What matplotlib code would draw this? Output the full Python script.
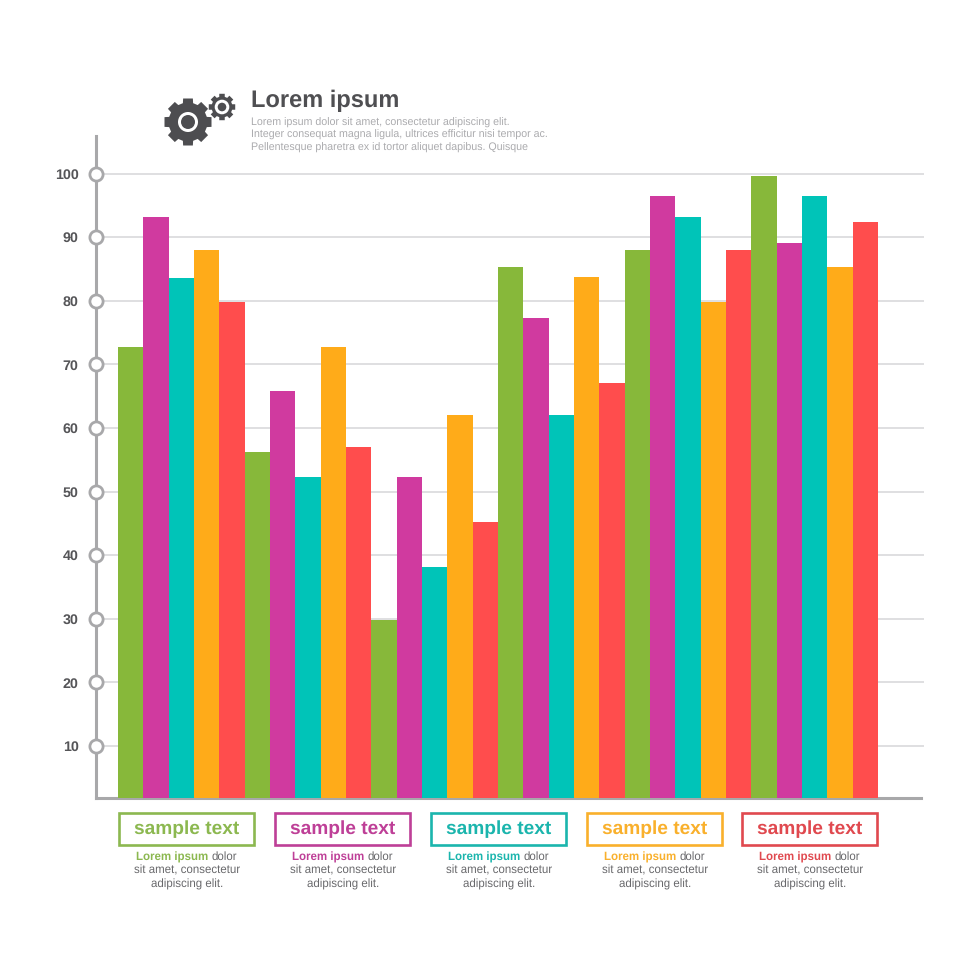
import numpy as np
import matplotlib
matplotlib.use('Agg')
import matplotlib.pyplot as plt
from matplotlib.patches import Rectangle, Polygon, Circle

plt.rcParams['font.family'] = ['Liberation Sans', 'DejaVu Sans']
plt.rcParams['text.hinting'] = 'no_hinting'

# values, one list per group of five bars
group_1 = [72.7, 93.2, 83.6, 88.0, 79.8]
group_2 = [56.2, 65.8, 52.3, 72.7, 57.0]
group_3 = [29.8, 52.3, 38.1, 62.0, 45.2]
group_4 = [85.3, 77.3, 62.0, 83.7, 67.0]
group_5 = [88.0, 96.5, 93.2, 79.8, 88.0]
group_6 = [99.6, 89.0, 96.5, 85.3, 92.4]
groups = [group_1, group_2, group_3, group_4, group_5, group_6]

bar_colors = ['#87B83A', '#D03A9F', '#00C4B8', '#FFAB19', '#FF4D4D']
text_colors = ['#8CB850', '#BE3F97', '#1BB5AD', '#F9B02C', '#E0494F']
y_ticks = [10, 20, 30, 40, 50, 60, 70, 80, 90, 100]
box_label = 'sample text'
title = 'Lorem ipsum'
subtitle = ['Lorem ipsum dolor sit amet, consectetur adipiscing elit.',
            'Integer consequat magna ligula, ultrices efficitur nisi tempor ac.',
            'Pellentesque pharetra ex id tortor aliquet dapibus. Quisque']

values = [v for g in groups for v in g]
colors = bar_colors * len(groups)
x = np.arange(len(values))

fig = plt.figure(figsize=(9.8, 9.8), dpi=100, facecolor='white')

# main chart
ax = fig.add_axes([96 / 980, 1 - 798 / 980, 828 / 980, 662 / 980])
ax.bar(x, values, width=1.0, color=colors, zorder=3)
xmin, xmax = -1.368, 31.316
ax.set_xlim(xmin, xmax)
ax.set_ylim(1.82, 105.9)
ax.set_xticks([])
ax.set_yticks(y_ticks)
ax.set_yticklabels([str(t) for t in y_ticks], fontsize=10.3, fontweight='bold', color='#555558')
ax.tick_params(axis='y', length=0, pad=12.5)
for t in y_ticks:
    ax.axhline(t, color='#D6D6D8', lw=1.1, zorder=1)
for s in ['top', 'right']:
    ax.spines[s].set_visible(False)
for s in ['left', 'bottom']:
    ax.spines[s].set_color('#A8A8AA')
    ax.spines[s].set_linewidth(2.2)
ax.spines['bottom'].set_bounds(xmin, 31.2)
ax.plot([xmin] * len(y_ticks), y_ticks, 'o', ms=9.5, mfc='white', mec='#A8A8AA', mew=2.0,
        clip_on=False, zorder=5)

# overlay in picture pixels for header and boxes
ov = fig.add_axes([0, 0, 1, 1], facecolor='none')
ov.set_xlim(0, 980)
ov.set_ylim(980, 0)
ov.axis('off')


def gear(cx, cy, r_out, r_root, r_hole, r_inner, teeth):
    pts = []
    step = 2 * np.pi / teeth
    for i in range(teeth):
        a = i * step - np.pi / 2
        w = step * 0.26
        pts.append((a - w * 1.3, r_root))
        pts.append((a - w, r_out))
        pts.append((a + w, r_out))
        pts.append((a + w * 1.3, r_root))
    xy = [(cx + r * np.cos(a), cy + r * np.sin(a)) for a, r in pts]
    ov.add_patch(Polygon(xy, closed=True, fc='#4D4D50', ec='none'))
    ov.add_patch(Circle((cx, cy), r_hole, fc='white', ec='none'))
    ov.add_patch(Circle((cx, cy), r_inner, fc='#4D4D50', ec='none'))


gear(188, 122, 24, 19.5, 10, 7, 8)
gear(222, 107, 13.5, 10.5, 7.3, 4.3, 8)

ov.text(251, 100.5, title, fontsize=17, fontweight='bold', color='#4F4F52', ha='left', va='center')
for i, line in enumerate(subtitle):
    ov.text(251, 122.5 + i * 12.6, line, fontsize=7.67, color='#ABABAE', ha='left', va='center')

box_left = [118, 274, 430, 586, 741]
for left, c_box, c_text in zip(box_left, bar_colors, text_colors):
    cen = left + 69
    ov.add_patch(Rectangle((left + 1, 812.5), 135, 32, fc='white', ec=c_text, lw=1.9))
    ov.text(cen, 829, box_label, fontsize=13.8, fontweight='bold', color=c_text, ha='center', va='center')
    ov.text(cen + 21, 857, 'Lorem ipsum', fontsize=8.3, fontweight='bold', color=c_text, ha='right', va='center')
    ov.text(cen + 24.5, 857, 'dolor', fontsize=8.3, color='#69696C', ha='left', va='center')
    ov.text(cen, 870.5, 'sit amet, consectetur', fontsize=8.3, color='#69696C', ha='center', va='center')
    ov.text(cen, 884.5, 'adipiscing elit.', fontsize=8.3, color='#69696C', ha='center', va='center')

fig.savefig('out.png', dpi=100, facecolor='white')
